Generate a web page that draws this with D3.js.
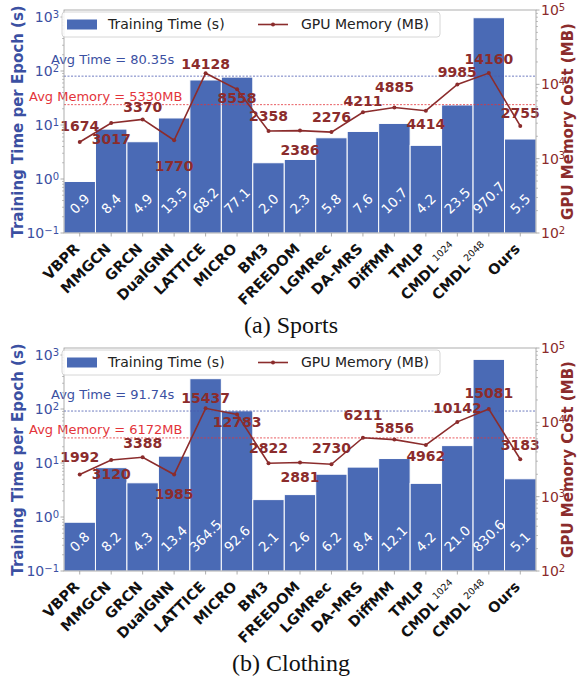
<!DOCTYPE html>
<html>
<head>
<meta charset="utf-8">
<script src="https://cdn.jsdelivr.net/npm/d3@7"></script>
<style>
body { margin: 0; background: #fff; }
text { font-family: "DejaVu Sans", sans-serif; }
</style>
</head>
<body>
<script>
// methods along the x axis (^ marks a superscript)
var methods = ["VBPR", "MMGCN", "GRCN", "DualGNN", "LATTICE", "MICRO", "BM3", "FREEDOM",
  "LGMRec", "DA-MRS", "DiffMM", "TMLP", "CMDL^1024", "CMDL^2048", "Ours"];

var sportsTime = [0.9, 8.4, 4.9, 13.5, 68.2, 77.1, 2.0, 2.3, 5.8, 7.6, 10.7, 4.2, 23.5, 970.7, 5.5];
var sportsMemory = [1674, 3017, 3370, 1770, 14128, 8558, 2358, 2386, 2276, 4211, 4885, 4414, 9985, 14160, 2755];
var clothingTime = [0.8, 8.2, 4.3, 13.4, 364.5, 92.6, 2.1, 2.6, 6.2, 8.4, 12.1, 4.2, 21.0, 830.6, 5.1];
var clothingMemory = [1992, 3120, 3388, 1985, 15437, 12783, 2822, 2881, 2730, 6211, 5856, 4962, 10142, 15081, 3183];

var avgTime = [80.35, 91.74];
var avgMemory = [5330, 6172];
var captions = ["(a) Sports", "(b) Clothing"];

var timeTicks = [0.1, 1, 10, 100, 1000];
var memTicks = [100, 1000, 10000, 100000];

// label offsets (px) of the memory annotations, above (-) or below (+) the point
var sportsDy = [-16, 16, -12, 26, -9, 9, -15, 20, -15, -11, -20, 13, -12, -14, -13];
var clothingDy = [-17, 14, -14, 20, -10, 8, -15, 15, -16, -23, -12, 11, -14, -16, -14];

var Blue = "#4a6ab5", BlueText = "#3b50a2", DarkRed = "#8b2c2c", Red = "#e3343a";

var svg = d3.select("body").append("svg")
  .attr("width", 578).attr("height", 680);

var left = 64, right = 536;

var x = d3.scaleBand().domain(methods).range([left, right]).padding(0);

// 45 degree rotation (counter-clockwise on screen) placed at (tx, ty)
function rot45(tx, ty) {
  var c = Math.SQRT1_2;
  return "matrix(" + c + "," + (-c) + "," + c + "," + c + "," + tx + "," + ty + ")";
}

function supLabel(sel, base, exp, size) {
  sel.append("tspan").text(base);
  sel.append("tspan").text(exp).attr("font-size", size).attr("dy", "-0.45em");
}

function minorTicks(domain) {
  var out = [];
  var lo = Math.floor(Math.log10(domain[0])), hi = Math.ceil(Math.log10(domain[1]));
  for (var e = lo; e < hi; e++) {
    for (var k = 2; k < 10; k++) {
      var v = k * Math.pow(10, e);
      if (v > domain[0] && v < domain[1]) out.push(v);
    }
  }
  return out;
}

function drawPanel(top, time, mem, avgT, avgM, caption, dys) {
  var bottom = top + 223;
  var g = svg.append("g");

  var yL = d3.scaleLog().domain([0.1, Math.pow(10, 3.13)]).range([bottom, top]);
  var yR = d3.scaleLog().domain([100, 100000]).range([bottom, top]);

  // bars
  g.selectAll(".bar").data(time).enter()
    .append("rect")
    .attr("x", (d, i) => x(methods[i]))
    .attr("y", d => yL(d))
    .attr("width", x.bandwidth())
    .attr("height", d => yL(0.1) - yL(d))
    .attr("fill", Blue)
    .attr("stroke", "#fff")
    .attr("stroke-width", 1);

  // values inside bars, rotated 45 degrees
  time.forEach(function(d, i) {
    var cx = x(methods[i]) + x.bandwidth() / 2;
    var t = g.append("text")
      .attr("x", 0).attr("y", 0)
      .attr("text-anchor", "middle")
      .attr("dy", "0.35em")
      .attr("font-size", 13.5)
      .attr("fill", "#fff")
      .text(d.toFixed(1));
    var L = t.node().getComputedTextLength();
    var cy = yL(0.2) - (L + 15) / (2 * Math.SQRT2);
    t.attr("transform", rot45(cx, cy));
  });

  // average lines
  g.append("line").attr("x1", left).attr("x2", right)
    .attr("y1", yL(avgT)).attr("y2", yL(avgT))
    .attr("stroke", "#4a5ab0").attr("stroke-width", 0.8).attr("stroke-dasharray", "2,1.5");
  g.append("line").attr("x1", left).attr("x2", right)
    .attr("y1", yR(avgM)).attr("y2", yR(avgM))
    .attr("stroke", Red).attr("stroke-width", 0.8).attr("stroke-dasharray", "2,1.5");
  g.append("text").attr("x", 51).attr("y", yL(avgT) - 12)
    .attr("font-size", 13).attr("fill", BlueText)
    .text("Avg Time = " + avgT.toFixed(2) + "s");
  g.append("text").attr("x", 29).attr("y", yR(avgM) - 4)
    .attr("font-size", 13).attr("fill", Red)
    .text("Avg Memory = " + avgM + "MB");

  // memory line
  var line = d3.line()
    .x((d, i) => x(methods[i]) + x.bandwidth() / 2)
    .y(d => yR(d));
  g.append("path").datum(mem)
    .attr("d", line)
    .attr("fill", "none")
    .attr("stroke", DarkRed)
    .attr("stroke-width", 1.6);
  g.selectAll(".pt").data(mem).enter()
    .append("circle")
    .attr("cx", (d, i) => x(methods[i]) + x.bandwidth() / 2)
    .attr("cy", d => yR(d))
    .attr("r", 2)
    .attr("fill", DarkRed);
  g.selectAll(".memlab").data(mem).enter()
    .append("text")
    .attr("x", (d, i) => x(methods[i]) + x.bandwidth() / 2)
    .attr("y", (d, i) => yR(d) + dys[i])
    .attr("dy", "0.35em")
    .attr("text-anchor", "middle")
    .attr("font-size", 14)
    .attr("font-weight", "bold")
    .attr("fill", DarkRed)
    .text(d => d);

  // frame
  g.append("rect").attr("x", left).attr("y", top)
    .attr("width", right - left).attr("height", bottom - top)
    .attr("fill", "none").attr("stroke", "#999").attr("stroke-width", 0.8);

  // left axis ticks
  minorTicks(yL.domain()).forEach(function(v) {
    g.append("line").attr("x1", left - 2).attr("x2", left)
      .attr("y1", yL(v)).attr("y2", yL(v)).attr("stroke", "#999").attr("stroke-width", 0.6);
  });
  timeTicks.forEach(function(v) {
    var yy = yL(v);
    g.append("line").attr("x1", left - 3.5).attr("x2", left)
      .attr("y1", yy).attr("y2", yy).attr("stroke", "#999").attr("stroke-width", 0.8);
    var t = g.append("text").attr("x", left - 5).attr("y", yy + 5)
      .attr("text-anchor", "end").attr("font-size", 14).attr("fill", BlueText);
    var e = Math.round(Math.log10(v));
    supLabel(t, "10", e < 0 ? "\u2212" + (-e) : "" + e, 10);
  });

  // right axis ticks
  minorTicks(yR.domain()).forEach(function(v) {
    g.append("line").attr("x1", right).attr("x2", right + 2)
      .attr("y1", yR(v)).attr("y2", yR(v)).attr("stroke", "#999").attr("stroke-width", 0.6);
  });
  memTicks.forEach(function(v) {
    var yy = yR(v);
    g.append("line").attr("x1", right).attr("x2", right + 3.5)
      .attr("y1", yy).attr("y2", yy).attr("stroke", "#999").attr("stroke-width", 0.8);
    var t = g.append("text").attr("x", right + 5).attr("y", yy + 5)
      .attr("font-size", 14).attr("fill", DarkRed);
    supLabel(t, "10", "" + Math.round(Math.log10(v)), 10);
  });

  // x ticks and rotated labels
  methods.forEach(function(m) {
    var cx = x(m) + x.bandwidth() / 2;
    g.append("line").attr("x1", cx).attr("x2", cx)
      .attr("y1", bottom).attr("y2", bottom + 3.5).attr("stroke", "#999").attr("stroke-width", 0.8);
    var t = g.append("text")
      .attr("transform", rot45(cx - 3, bottom + 13))
      .attr("x", 0).attr("y", 0)
      .attr("text-anchor", "end")
      .attr("dy", "0.35em")
      .attr("font-size", 14.5)
      .attr("font-weight", "bold")
      .attr("fill", "#111");
    var parts = m.split("^");
    t.append("tspan").text(parts[0]);
    if (parts[1]) {
      t.append("tspan").text(parts[1]).attr("font-size", 9.5)
        .attr("font-weight", "normal").attr("dy", "-0.7em").attr("dx", 2);
    }
  });

  // axis titles
  g.append("text")
    .attr("transform", "translate(18," + (top + bottom) / 2 + ") rotate(-90)")
    .attr("text-anchor", "middle").attr("dy", "0.35em")
    .attr("font-size", 15).attr("font-weight", "bold").attr("fill", BlueText)
    .text("Training Time per Epoch (s)");
  g.append("text")
    .attr("transform", "translate(568," + (top + bottom) / 2 + ") rotate(-90)")
    .attr("text-anchor", "middle").attr("dy", "0.35em")
    .attr("font-size", 15).attr("font-weight", "bold").attr("fill", DarkRed)
    .text("GPU Memory Cost (MB)");

  // legend
  var lg = g.append("g");
  lg.append("rect").attr("x", 62).attr("y", top + 2).attr("width", 378).attr("height", 25)
    .attr("rx", 3).attr("fill", "#fff").attr("fill-opacity", 0.85)
    .attr("stroke", "#ccc").attr("stroke-width", 0.8);
  lg.append("rect").attr("x", 67).attr("y", top + 9.5).attr("width", 30).attr("height", 10)
    .attr("fill", Blue);
  lg.append("text").attr("x", 108).attr("y", top + 14.5).attr("dy", "0.35em")
    .attr("font-size", 14).attr("fill", "#222").text("Training Time (s)");
  lg.append("line").attr("x1", 258).attr("x2", 288)
    .attr("y1", top + 14.5).attr("y2", top + 14.5)
    .attr("stroke", DarkRed).attr("stroke-width", 1.6);
  lg.append("circle").attr("cx", 273).attr("cy", top + 14.5).attr("r", 2).attr("fill", DarkRed);
  lg.append("text").attr("x", 301).attr("y", top + 14.5).attr("dy", "0.35em")
    .attr("font-size", 14).attr("fill", "#222").text("GPU Memory (MB)");

  // caption
  svg.append("text").attr("x", 291).attr("y", top + 323)
    .attr("text-anchor", "middle")
    .style("font-family", "'Liberation Serif', 'DejaVu Serif', serif")
    .attr("font-size", 24).attr("fill", "#111")
    .text(caption);
}

drawPanel(10, sportsTime, sportsMemory, avgTime[0], avgMemory[0], captions[0], sportsDy);
drawPanel(348, clothingTime, clothingMemory, avgTime[1], avgMemory[1], captions[1], clothingDy);
</script>
</body>
</html>
